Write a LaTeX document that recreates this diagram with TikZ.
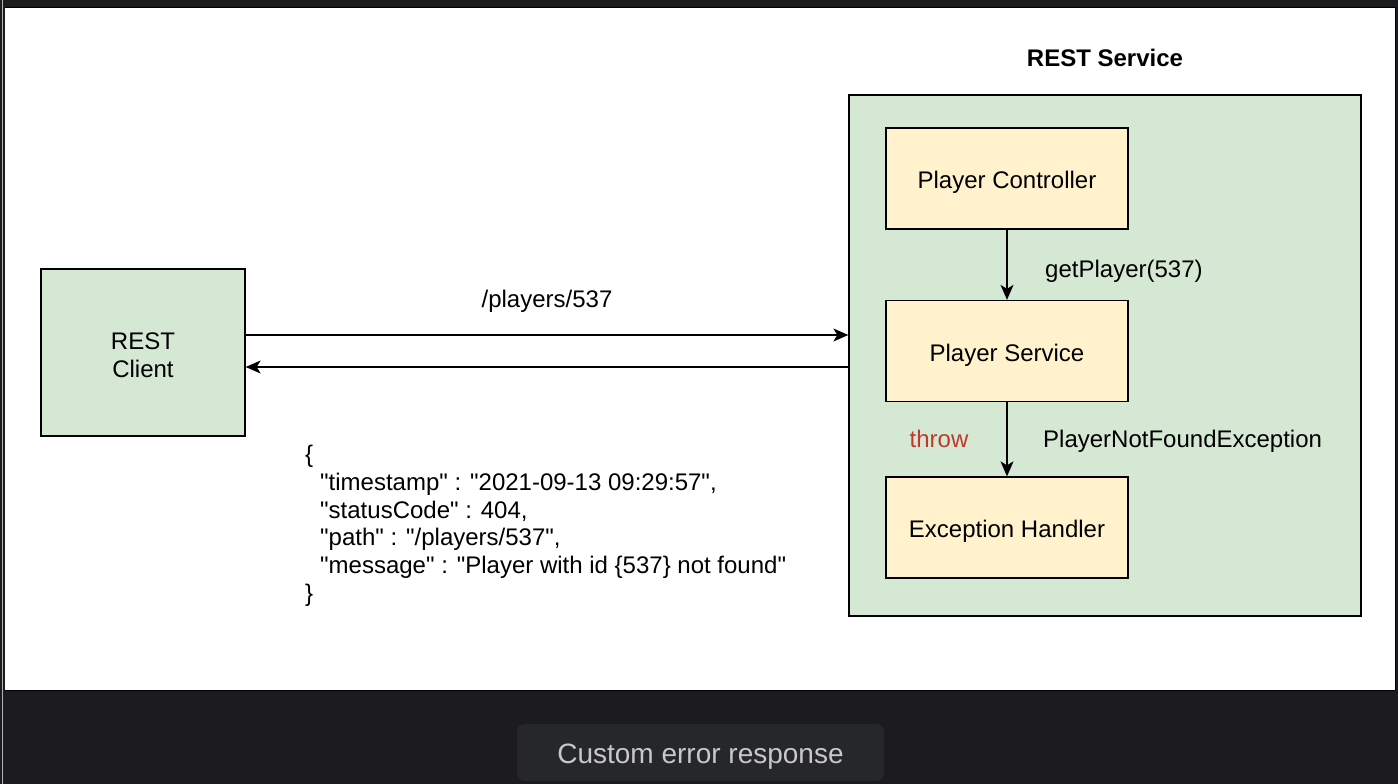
\documentclass[tikz,border=0pt]{standalone}
\usepackage{fontspec}
\setmainfont{Liberation Sans}
\newfontfamily\jsonfont{Liberation Sans}
\usetikzlibrary{arrows.meta}
\definecolor{bgdark}{HTML}{1C1C1E}
\definecolor{capbox}{HTML}{26272B}
\definecolor{captext}{HTML}{C8C8C8}
\definecolor{greenfill}{HTML}{D5E8D4}
\definecolor{yellowfill}{HTML}{FFF2CC}
\definecolor{throwred}{HTML}{C0392B}
\tikzset{
  greenbox/.style={draw=black, line width=1.3pt, fill=greenfill, rectangle, inner sep=0pt},
  yellowbox/.style={draw=black, line width=1.3pt, fill=yellowfill, rectangle, inner sep=0pt,
    minimum width=242pt, minimum height=101pt, font=\fontsize{24}{28}\selectfont,
    text height=20pt, text depth=0pt},
  lbl/.style={font=\fontsize{24}{28}\selectfont, inner sep=0pt, text height=17.5pt, text depth=5pt},
  arr/.style={draw=black, line width=1.3pt, -{Stealth[length=15pt, width=13pt, inset=4pt]}},
}
\begin{document}
\begin{tikzpicture}[x=1pt, y=-1pt]
  \useasboundingbox (0,0) rectangle (1398,784);
  \fill[bgdark] (0,0) rectangle (1398,784);
  \draw[gray!60, line width=1pt] (2.5,0) -- (2.5,784);
  \fill[white] (5,8) rectangle (1395,690);
  \draw[black, line width=1.2pt] (4.5,7.5) -- (1395.5,7.5) -- (1395.5,690.5) -- (4.5,690.5);

  % caption
  \node[fill=capbox, rounded corners=8pt, minimum width=367pt, minimum height=57pt, inner sep=0pt,
        text=captext, font=\fontsize{28}{32}\selectfont, text height=22pt, text depth=0pt]
        (caption) at (700.5,752.5) {Custom error response};

  % service container
  \node[greenbox, minimum width=512pt, minimum height=521pt] (svc) at (1105,355.5) {};
  \node[lbl, font=\bfseries\fontsize{24}{28}\selectfont] (svctitle) at (1105,60) {REST Service};

  % client
  \node[greenbox, minimum width=204pt, minimum height=167pt] (client) at (143,352.5) {};
  \node[align=center, inner sep=0pt, font=\fontsize{24}{28}\selectfont] (clientlbl) at (143,355.5) {REST\\Client};

  % inner boxes
  \node[yellowbox] (pc) at (1007,178.5) {Player Controller};
  \node[yellowbox] (ps) at (1007,351) {Player Service};
  \node[yellowbox] (eh) at (1007,527.5) {Exception Handler};

  % connectors
  \coordinate (req) at (0,335);
  \coordinate (resp) at (0,367);
  \draw[arr] (client.east |- req) -- (svc.west |- req);
  \draw[arr] (svc.west |- resp) -- (client.east |- resp);
  \draw[arr] (pc.south) -- (ps.north);
  \draw[arr] (ps.south) -- (eh.north);

  % labels
  \node[lbl] (reqlbl) at (547,301.5) {/players/537};
  \node[lbl, anchor=west] (getlbl) at (1045,271) {getPlayer(537)};
  \node[lbl, anchor=west] (pnfe) at (1043,441) {PlayerNotFoundException};
  \node[lbl, text=throwred] (throwlbl) at (939,441) {throw};

  % json body
  \node[inner sep=0pt, anchor=north west, align=left, font=\jsonfont\fontsize{24}{27.8}\selectfont] (json) at (305,445) {%
    \{\\
    \hspace*{15pt}"timestamp" : "2021-09-13 09:29:57",\\
    \hspace*{15pt}"statusCode" : 404,\\
    \hspace*{15pt}"path" : "/players/537",\\
    \hspace*{15pt}"message" : "Player with id \{537\} not found"\\
    \}};
\end{tikzpicture}
\end{document}
